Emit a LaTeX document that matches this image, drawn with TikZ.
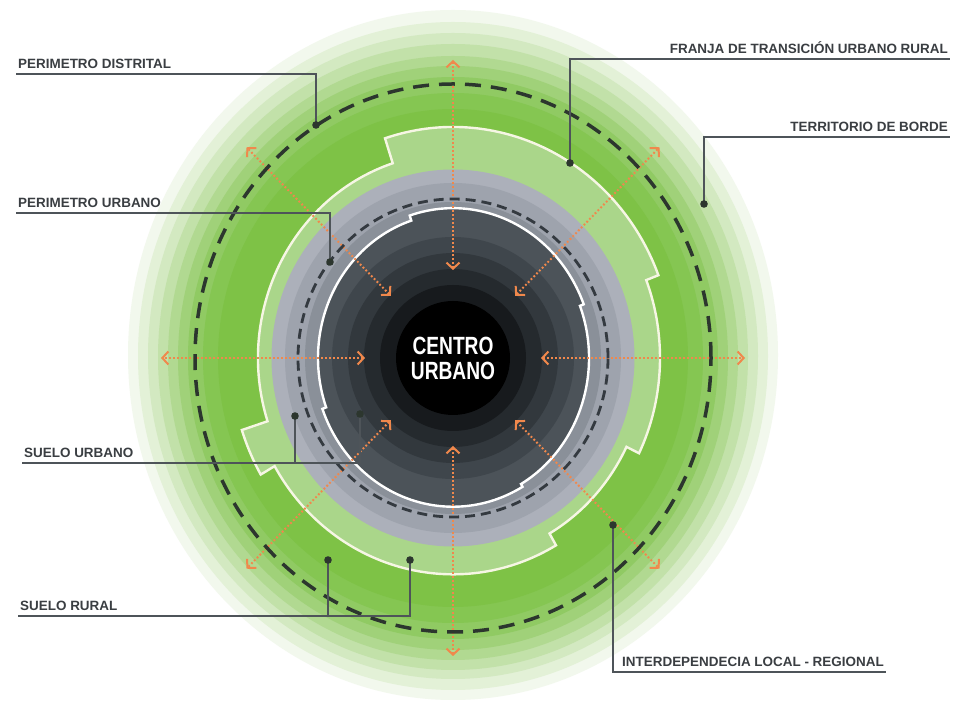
\documentclass[tikz,border=0pt]{standalone}
\usepackage{fontspec}
\setmainfont{Liberation Sans}
\newfontfamily\centrofont[FakeStretch=0.77]{Liberation Sans}
\usetikzlibrary{arrows.meta}
\definecolor{verde1}{RGB}{242,248,237}
\definecolor{verde2}{RGB}{227,241,215}
\definecolor{verde3}{RGB}{211,233,193}
\definecolor{verde4}{RGB}{194,225,169}
\definecolor{verde5}{RGB}{177,217,145}
\definecolor{verde6}{RGB}{160,209,121}
\definecolor{verde7}{RGB}{144,202,99}
\definecolor{verde8}{RGB}{133,198,82}
\definecolor{verde9}{RGB}{126,194,70}
\definecolor{verdeclaro}{RGB}{170,214,138}
\definecolor{crema}{RGB}{246,246,228}
\definecolor{gris1}{RGB}{172,176,186}
\definecolor{gris2}{RGB}{158,163,173}
\definecolor{gris3}{RGB}{138,144,153}
\definecolor{oscuro1}{RGB}{76,83,89}
\definecolor{oscuro2}{RGB}{63,70,76}
\definecolor{oscuro3}{RGB}{50,56,61}
\definecolor{oscuro4}{RGB}{37,42,46}
\definecolor{oscuro5}{RGB}{23,26,29}
\definecolor{naranja}{RGB}{240,136,76}
\definecolor{trazo}{RGB}{44,54,46}
\definecolor{trazourb}{RGB}{52,58,64}
\definecolor{guiagris}{RGB}{78,84,89}
\definecolor{textogris}{RGB}{58,62,66}
\tikzset{
  etiqueta/.style={font=\bfseries\fontsize{13.5}{14}\selectfont, text=textogris, inner xsep=2bp, inner ysep=5bp, text depth=0pt},
  guia/.style={draw=guiagris, line width=1.5bp},
  punto/.style={fill=trazo},
  flecha/.style={draw=naranja, line width=2bp, dash pattern=on 1.8bp off 2.2bp, >={Straight Barb[length=6bp,width=13bp]}, <->},
  limite/.style={draw=trazo, line width=3.5bp, dash pattern=on 16bp off 10bp},
  limiteurb/.style={draw=trazourb, line width=2.8bp, dash pattern=on 10bp off 6bp}
}
\begin{document}
\begin{tikzpicture}[x=1bp,y=1bp]
\useasboundingbox (0,0) rectangle (955,706);
\fill [white] (0,0) rectangle (955,706);
\coordinate (c) at (453,348);
%territorio de borde%
\fill [verde1] (453,351) ellipse [x radius=325, y radius=345];
\fill [verde2] (453,350) ellipse [x radius=315, y radius=334];
\fill [verde3] (453,350) ellipse [x radius=305, y radius=323];
\fill [verde4] (453,349) ellipse [x radius=295, y radius=313];
\fill [verde5] (c) ellipse [x radius=285, y radius=302];
\fill [verde6] (c) ellipse [x radius=275, y radius=292];
\fill [verde7] (c) ellipse [x radius=265, y radius=281];
\fill [verde8] (c) ellipse [x radius=250, y radius=265];
\fill [verde9] (c) ellipse [x radius=235, y radius=249];
%franja de transicion%
\begin{scope}[shift={(c)}, yscale=1.05]
\filldraw [fill=verdeclaro, draw=crema, line width=2.4bp]
  (21:220) arc [start angle=21, end angle=108, radius=220] -- (108:195)
  arc [start angle=108, end angle=198, radius=195] -- (198:222)
  arc [start angle=198, end angle=210, radius=222] -- (210:206)
  arc [start angle=210, end angle=300, radius=206] -- (300:193)
  arc [start angle=300, end angle=334, radius=193] -- (334:207)
  arc [start angle=334, end angle=381, radius=207] -- cycle;
\end{scope}
%suelo urbano%
\fill [gris1] (c) ellipse [x radius=181.5, y radius=188.5];
\fill [gris2] (c) ellipse [x radius=168, y radius=175];
\fill [gris3] (c) ellipse [x radius=148, y radius=156];
\begin{scope}[shift={(c)}, yscale=1.07]
\filldraw [fill=oscuro1, draw=white, line width=2.4bp]
  (21:140) arc [start angle=21, end angle=108, radius=140] -- (108:135)
  arc [start angle=108, end angle=200, radius=135] -- (200:139)
  arc [start angle=200, end angle=300, radius=139] -- (300:136)
  arc [start angle=300, end angle=381, radius=136] -- cycle;
\end{scope}
\fill [oscuro2] (c) circle [radius=121];
\fill [oscuro3] (c) circle [radius=105];
\fill [oscuro4] (c) circle [radius=89];
\fill [oscuro5] (c) circle [radius=73];
\fill [black] (c) circle [radius=57];
\node (centro) [font=\centrofont\bfseries\fontsize{25}{25}\selectfont, text=white, align=center, inner sep=0pt] at (453,347.5) {CENTRO\\URBANO};
%flujos%
\begin{scope}[shift={(c)}]
\coordinate (in1) at (0:88);   \coordinate (ex1) at (0:292 and 298);
\coordinate (in2) at (45:88);  \coordinate (ex2) at (45:292 and 298);
\coordinate (in3) at (90:88);  \coordinate (ex3) at (90:292 and 298);
\coordinate (in4) at (135:88); \coordinate (ex4) at (135:292 and 298);
\coordinate (in5) at (180:88); \coordinate (ex5) at (180:292 and 298);
\coordinate (in6) at (225:88); \coordinate (ex6) at (225:292 and 298);
\coordinate (in7) at (270:88); \coordinate (ex7) at (270:292 and 298);
\coordinate (in8) at (315:88); \coordinate (ex8) at (315:292 and 298);
\end{scope}
\draw [flecha] (in1) -- (ex1);
\draw [flecha] (in2) -- (ex2);
\draw [flecha] (in3) -- (ex3);
\draw [flecha] (in4) -- (ex4);
\draw [flecha] (in5) -- (ex5);
\draw [flecha] (in6) -- (ex6);
\draw [flecha] (in7) -- (ex7);
\draw [flecha] (in8) -- (ex8);
%perimetros%
\draw [limiteurb] (c) ellipse [x radius=155, y radius=159];
\draw [limite] (c) ellipse [x radius=258, y radius=274];
%etiquetas%
\coordinate (dDist) at (316,581);
\coordinate (dPUrb) at (330,444);
\coordinate (dSU1) at (295,290);
\coordinate (dSU2) at (360,292);
\coordinate (dSR1) at (328,146);
\coordinate (dSR2) at (410,146);
\coordinate (dFranja) at (570,543);
\coordinate (dTerr) at (704,502);
\coordinate (dInter) at (613,181);
\node (lDist) [etiqueta, anchor=south west] at (16,632) {PERIMETRO DISTRITAL};
\node (lPUrb) [etiqueta, anchor=south west] at (16,493) {PERIMETRO URBANO};
\node (lSU) [etiqueta, anchor=south west] at (22,243) {SUELO URBANO};
\node (lSR) [etiqueta, anchor=south west] at (18,90) {SUELO RURAL};
\node (lFranja) [etiqueta, anchor=south east] at (950,647) {FRANJA DE TRANSICIÓN URBANO RURAL};
\node (lTerr) [etiqueta, anchor=south east] at (950,569) {TERRITORIO DE BORDE};
\node (lInter) [etiqueta, anchor=south west] at (620,34) {INTERDEPENDECIA LOCAL - REGIONAL};
\draw [guia] (lDist.south west) -- (lDist.south west -| dDist) -- (dDist);
\draw [guia] (lPUrb.south west) -- (lPUrb.south west -| dPUrb) -- (dPUrb);
\draw [guia] (lSU.south west) -- (lSU.south west -| dSU2) -- (dSU2);
\draw [guia] (dSU1) -- (dSU1 |- lSU.south);
\draw [guia] (lSR.south west) -- (lSR.south west -| dSR2) -- (dSR2);
\draw [guia] (dSR1) -- (dSR1 |- lSR.south);
\draw [guia] (dFranja) -- (dFranja |- lFranja.south) -- (lFranja.south east);
\draw [guia] (dTerr) -- (dTerr |- lTerr.south) -- (lTerr.south east);
\draw [guia] (dInter) -- (dInter |- lInter.south) -- (lInter.south east);
\fill [punto] (dDist) circle [radius=3.8] (dPUrb) circle [radius=3.8]
  (dSU1) circle [radius=3.8] (dSU2) circle [radius=3.8]
  (dSR1) circle [radius=3.8] (dSR2) circle [radius=3.8]
  (dFranja) circle [radius=3.8] (dTerr) circle [radius=3.8] (dInter) circle [radius=3.8];
\end{tikzpicture}
\end{document}
